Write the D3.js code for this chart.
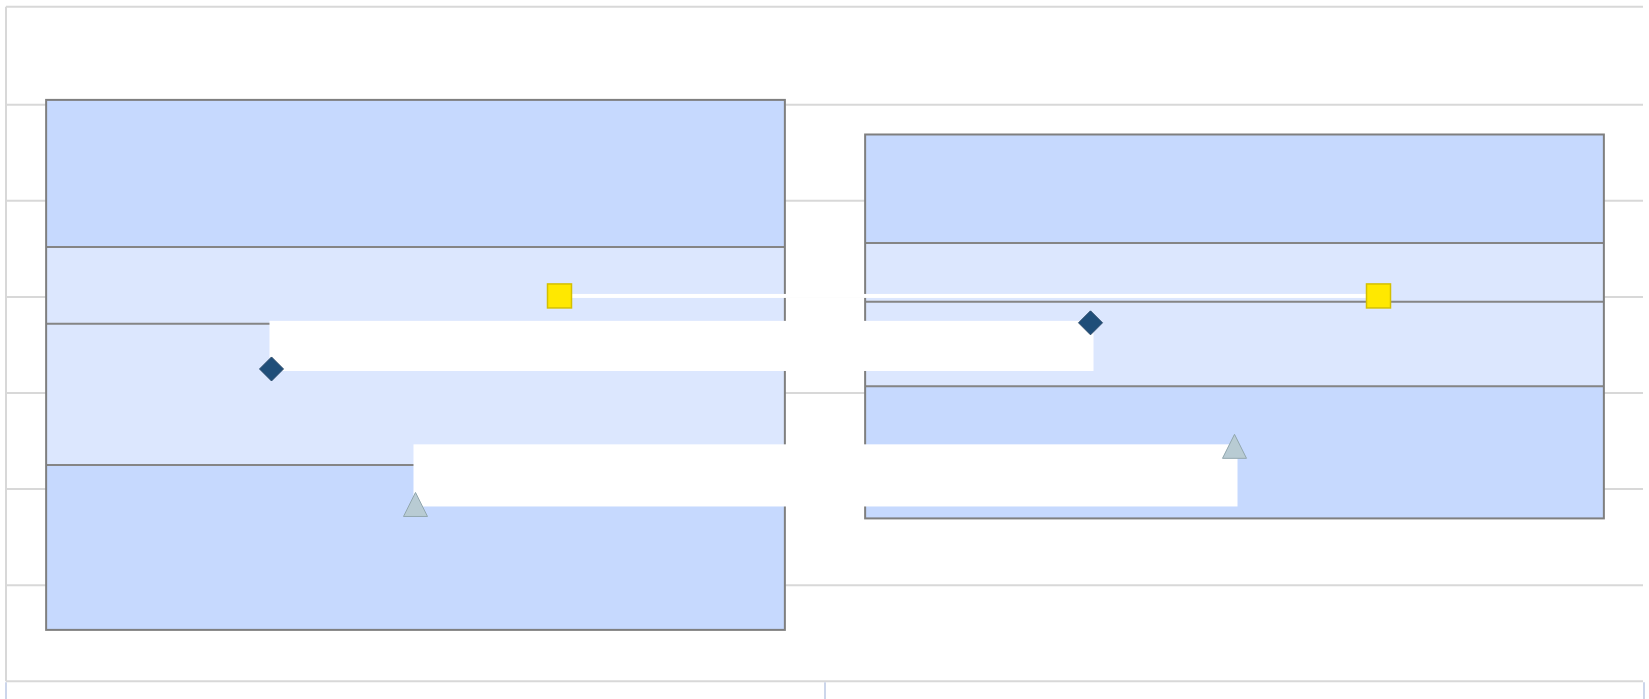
<!DOCTYPE html>
<html>
<head>
<meta charset="utf-8">
<script src="https://cdn.jsdelivr.net/npm/d3@7"></script>
<style>
  body { margin: 0; background: #fff; }
</style>
</head>
<body>
<div id="chart"></div>
<script>
// data
var categories = ["Category 1", "Category 2"];
var boxLow = [10.7, 33.9];
var boxQ1 = [45.0, 61.4];
var boxMedian = [74.4, 79.0];
var boxQ3 = [90.4, 91.2];
var boxHigh = [121.0, 113.8];
var diamondValues = [65.0, 74.6];
var triangleValues = [36.8, 48.9];
var squareValues = [80.2, 80.2];
var yTicks = [0, 20, 40, 60, 80, 100, 120];

var width = 1649,
    height = 699,
    margin = {"top": 7, "right": 5, "bottom": 18, "left": 6};

var svg = d3.select("#chart").append("svg")
    .attr("width", width)
    .attr("height", height);

var x = d3.scaleBand()
    .domain(categories)
    .range([margin.left, width - margin.right])
    .padding(0);

var y = d3.scaleLinear()
    .domain([0, 120])
    .range([height - margin.bottom + 0.3, 104.7]);

// dodge of the three point series inside a category
var dodge = d3.scalePoint()
    .domain(["diamond", "triangle", "square"])
    .range([-144, 144]);

var boxHalf = x.bandwidth() * 0.451;
var cx = function(i) { return x(categories[i]) + x.bandwidth() / 2; };

// horizontal grid
svg.append("g")
    .selectAll("line")
    .data(yTicks)
  .enter().append("line")
    .attr("x1", margin.left)
    .attr("x2", width - margin.right - 1)
    .attr("y1", (d) => y(d))
    .attr("y2", (d) => y(d))
    .attr("stroke", "#d8d8d8")
    .attr("stroke-width", 2);

// top border
svg.append("line")
    .attr("x1", margin.left).attr("x2", width - margin.right - 1)
    .attr("y1", margin.top - 0.3).attr("y2", margin.top - 0.3)
    .attr("stroke", "#d8d8d8")
    .attr("stroke-width", 2);

// left axis line
svg.append("line")
    .attr("x1", margin.left).attr("x2", margin.left)
    .attr("y1", margin.top - 0.3).attr("y2", y(0))
    .attr("stroke", "#d8d8d8")
    .attr("stroke-width", 2);

// category ticks
var tickPos = categories.map((c) => x(c)).concat([x.range()[1]]);
svg.append("g")
    .selectAll("line")
    .data(tickPos)
  .enter().append("line")
    .attr("x1", (d) => d)
    .attr("x2", (d) => d)
    .attr("y1", y(0) + 1)
    .attr("y2", height)
    .attr("stroke", "#ccd6eb")
    .attr("stroke-width", 2);

// boxes
var boxes = svg.append("g").selectAll("g")
    .data(categories.map((c, i) => i))
  .enter().append("g");

boxes.append("rect")
    .attr("x", (i) => cx(i) - boxHalf)
    .attr("width", boxHalf * 2)
    .attr("y", (i) => y(boxHigh[i]))
    .attr("height", (i) => y(boxLow[i]) - y(boxHigh[i]))
    .attr("fill", "#c6d9fe");

boxes.append("rect")
    .attr("x", (i) => cx(i) - boxHalf)
    .attr("width", boxHalf * 2)
    .attr("y", (i) => y(boxQ3[i]))
    .attr("height", (i) => y(boxQ1[i]) - y(boxQ3[i]))
    .attr("fill", "#dce7fe");

[boxQ3, boxMedian, boxQ1].forEach(function(arr) {
    boxes.append("line")
        .attr("x1", (i) => cx(i) - boxHalf)
        .attr("x2", (i) => cx(i) + boxHalf)
        .attr("y1", (i) => y(arr[i]))
        .attr("y2", (i) => y(arr[i]))
        .attr("stroke", "#858585")
        .attr("stroke-width", 2);
});

boxes.append("rect")
    .attr("x", (i) => cx(i) - boxHalf)
    .attr("width", boxHalf * 2)
    .attr("y", (i) => y(boxHigh[i]))
    .attr("height", (i) => y(boxLow[i]) - y(boxHigh[i]))
    .attr("fill", "none")
    .attr("stroke", "#7f7f7f")
    .attr("stroke-width", 2);

// white connectors between categories
function band(values, key) {
    var x1 = cx(0) + dodge(key), x2 = cx(1) + dodge(key);
    var yA = y(values[0]), yB = y(values[1]);
    svg.append("rect")
        .attr("x", x1 - 2)
        .attr("width", x2 - x1 + 5)
        .attr("y", Math.min(yA, yB) - 2)
        .attr("height", Math.abs(yA - yB) + 4)
        .attr("fill", "#ffffff");
}
band(squareValues, "square");
band(diamondValues, "diamond");
band(triangleValues, "triangle");

// markers
var s = 12;
function pts(values, key) {
    return values.map((v, i) => ({"x": cx(i) + dodge(key), "y": y(v)}));
}

svg.append("g").selectAll("path")
    .data(pts(diamondValues, "diamond"))
  .enter().append("path")
    .attr("d", (d) => "M" + d.x + "," + (d.y - s) + "L" + (d.x + s) + "," + d.y +
                      "L" + d.x + "," + (d.y + s) + "L" + (d.x - s) + "," + d.y + "Z")
    .attr("fill", "#1f4e79")
    .attr("stroke", "#2a4a6a")
    .attr("stroke-width", 1)
    .attr("stroke-linejoin", "round");

svg.append("g").selectAll("path")
    .data(pts(triangleValues, "triangle"))
  .enter().append("path")
    .attr("d", (d) => "M" + d.x + "," + (d.y - s) + "L" + (d.x + s) + "," + (d.y + s) +
                      "L" + (d.x - s) + "," + (d.y + s) + "Z")
    .attr("fill", "#b8cbd3")
    .attr("stroke", "#92a7ae")
    .attr("stroke-width", 1)
    .attr("stroke-linejoin", "round");

svg.append("g").selectAll("rect")
    .data(pts(squareValues, "square"))
  .enter().append("rect")
    .attr("x", (d) => d.x - s)
    .attr("y", (d) => d.y - s)
    .attr("width", s * 2)
    .attr("height", s * 2)
    .attr("fill", "#ffe800")
    .attr("stroke", "#d4c000")
    .attr("stroke-width", 1.5);
</script>
</body>
</html>
